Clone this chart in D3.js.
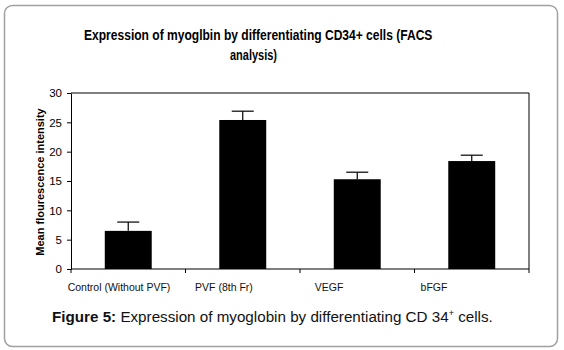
<!DOCTYPE html>
<html>
<head>
<meta charset="utf-8">
<script src="https://cdn.jsdelivr.net/npm/d3@7"></script>
<style>
  body { margin: 0; background: #fff; }
  text { font-family: "Liberation Sans", Arial, sans-serif; }
</style>
</head>
<body>
<svg id="chart" width="564" height="350"></svg>
<script>
// chart data
const categories = ["Control (Without PVF)", "PVF (8th Fr)", "VEGF", "bFGF"];
const means = [6.5, 25.4, 15.3, 18.4];
const errors = [1.5, 1.5, 1.2, 1.0];
const yTicks = [0, 5, 10, 15, 20, 25, 30];

const svg = d3.select("#chart");

// squeeze/stretch a text so it spans x0..x1 (original figure is scaled unevenly)
function fitText(t, x0, x1, baseline) {
  t.attr("x", 0).attr("y", 0).attr("text-anchor", "start");
  const len = t.node().getComputedTextLength();
  t.attr("transform", `translate(${x0},${baseline}) scale(${(x1 - x0) / len},1)`);
}

// outer rounded frame
svg.append("rect")
  .attr("x", 4.5).attr("y", 5.5)
  .attr("width", 553).attr("height", 341)
  .attr("rx", 8)
  .attr("fill", "#fff")
  .attr("stroke", "#a0a0a0")
  .attr("stroke-width", 1.5);

const plot = { left: 71, right: 529, top: 93, bottom: 269 };

const x = d3.scaleBand()
  .domain(categories)
  .range([plot.left, plot.right])
  .paddingInner(0.59)
  .paddingOuter(0.295);

const y = d3.scaleLinear().domain([0, 30]).range([plot.bottom, plot.top]);

// labels sit a bit left of the bars in the original
const xLabel = d3.scalePoint().domain(categories).range([119, 434]);

// title
const t1 = svg.append("text")
  .attr("font-size", 14).attr("font-weight", "bold")
  .text("Expression of myoglbin by differentiating CD34+ cells (FACS");
fitText(t1, 84, 433, 40);
const t2 = svg.append("text")
  .attr("font-size", 14).attr("font-weight", "bold")
  .text("analysis)");
fitText(t2, 230, 277, 60);

// plot area border (top + right)
svg.append("path")
  .attr("d", `M${plot.left},${plot.top}H${plot.right}V${plot.bottom}`)
  .attr("fill", "none").attr("stroke", "#000").attr("stroke-width", 1);

// bars
svg.append("g")
  .selectAll("rect")
  .data(means)
  .enter()
  .append("rect")
  .attr("x", (d, i) => x(categories[i]))
  .attr("width", x.bandwidth())
  .attr("y", d => y(d))
  .attr("height", d => y(0) - y(d))
  .attr("fill", "#000");

// error bars (upper half only visible)
const eb = svg.append("g").attr("stroke", "#000").attr("stroke-width", 1.2);
means.forEach((m, i) => {
  const cx = x(categories[i]) + x.bandwidth() / 2;
  eb.append("line")
    .attr("x1", cx).attr("x2", cx)
    .attr("y1", y(m)).attr("y2", y(m + errors[i]));
  eb.append("line")
    .attr("x1", cx - 11).attr("x2", cx + 11)
    .attr("y1", y(m + errors[i])).attr("y2", y(m + errors[i]));
});

// y axis
const yAxis = svg.append("g")
  .attr("transform", `translate(${plot.left},0)`)
  .call(d3.axisLeft(y).tickValues(yTicks).tickSize(4).tickSizeOuter(0).tickPadding(5));
yAxis.select(".domain").attr("stroke", "#000");
yAxis.selectAll("text").attr("font-size", 11.5).attr("fill", "#000")
  .attr("font-family", "Liberation Sans, Arial, sans-serif");

// x axis: ticks between categories
const bounds = d3.range(categories.length + 1)
  .map(i => plot.left + i * (plot.right - plot.left) / categories.length);
const xAxis = svg.append("g");
xAxis.append("line")
  .attr("x1", plot.left).attr("x2", plot.right)
  .attr("y1", plot.bottom).attr("y2", plot.bottom)
  .attr("stroke", "#000");
xAxis.selectAll(".tk")
  .data(bounds)
  .enter()
  .append("line")
  .attr("x1", d => d).attr("x2", d => d)
  .attr("y1", plot.bottom).attr("y2", plot.bottom + 4)
  .attr("stroke", "#000");
xAxis.selectAll(".lbl")
  .data(categories)
  .enter()
  .append("text")
  .attr("x", d => xLabel(d))
  .attr("y", 291)
  .attr("text-anchor", "middle")
  .attr("font-size", 10.5)
  .attr("fill", "#111")
  .text(d => d);

// y axis title
svg.append("text")
  .attr("transform", `translate(44,182) rotate(-90)`)
  .attr("text-anchor", "middle")
  .attr("font-size", 11).attr("font-weight", "bold")
  .text("Mean flourescence intensity");

// caption
const cap = svg.append("text")
  .attr("font-size", 15).attr("fill", "#111");
cap.append("tspan").attr("font-weight", "bold").text("Figure 5:");
cap.append("tspan").text(" Expression of myoglobin by differentiating CD 34");
cap.append("tspan").attr("font-size", 9).attr("dy", -6).text("+");
cap.append("tspan").attr("dy", 6).text(" cells.");
cap.attr("x", 0).attr("y", 0);
const capW = cap.node().getBBox().width;
cap.attr("transform", `translate(52,322) scale(${441 / capW},1)`);
</script>
</body>
</html>
